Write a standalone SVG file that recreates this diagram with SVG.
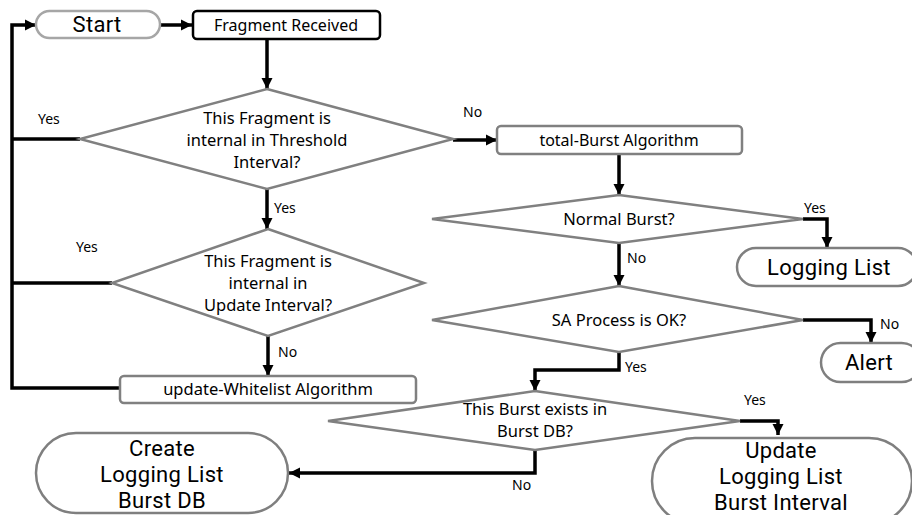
<svg xmlns="http://www.w3.org/2000/svg" width="912" height="515" viewBox="0 0 912 515">
  <style>
    text { font-family: "Noto Sans", "Open Sans", sans-serif; fill: #000; text-anchor: middle; }
    .box { fill: #fff; stroke: #808080; stroke-width: 2.5; }
    .dec { fill: #fff; stroke: #808080; stroke-width: 2.5; stroke-linejoin: miter; }
    .pill { fill: #fff; stroke: #7f7f7f; stroke-width: 2.5; }
    .t14 { font-size: 16px; }
    .t15 { font-size: 16.5px; }
    .t20 { font-family: Roboto, "Noto Sans", sans-serif; font-size: 22px; letter-spacing: 0.3px; }
    .lbl { font-size: 14px; text-anchor: start; }
    .wire { fill: none; stroke: #000; stroke-width: 3.5; stroke-linejoin: miter; }
    .arr { marker-end: url(#head); }
  </style>
  <defs>
    <marker id="head" markerUnits="userSpaceOnUse" markerWidth="12" markerHeight="12" refX="11" refY="6" orient="auto">
      <path d="M0,0.5 L11,6 L0,11.5 Z" fill="#000"/>
    </marker>
  </defs>

  <rect width="912" height="515" fill="#fff"/>

  <!-- connectors -->
  <g id="connectors">
    <path class="wire arr" d="M160,25 H192"/>
    <path class="wire arr" d="M267,39 V89"/>
    <path class="wire" d="M80,139 H12"/>
    <path class="wire" d="M112,283 H12"/>
    <path class="wire arr" d="M120,388 H12 V25 H36"/>
    <path class="wire arr" d="M453,140 H497"/>
    <path class="wire arr" d="M267,189 V229"/>
    <path class="wire arr" d="M268,336 V376"/>
    <path class="wire arr" d="M619,154 V195"/>
    <path class="wire arr" d="M803,219 H827 V248"/>
    <path class="wire arr" d="M619,243 V286"/>
    <path class="wire arr" d="M803,320 H871 V343"/>
    <path class="wire arr" d="M619,352 V370 H535 V391"/>
    <path class="wire arr" d="M740,421 H778 V435"/>
    <path class="wire arr" d="M535,450 V473 H289"/>
  </g>

  <!-- edge labels -->
  <g id="labels">
    <text class="lbl" x="38" y="124">Yes</text>
    <text class="lbl" x="463" y="117">No</text>
    <text class="lbl" x="274" y="213">Yes</text>
    <text class="lbl" x="76" y="252">Yes</text>
    <text class="lbl" x="278" y="357">No</text>
    <text class="lbl" x="804" y="213">Yes</text>
    <text class="lbl" x="627" y="263">No</text>
    <text class="lbl" x="880" y="329">No</text>
    <text class="lbl" x="625" y="372">Yes</text>
    <text class="lbl" x="744" y="405">Yes</text>
    <text class="lbl" x="512" y="490">No</text>
  </g>

  <g id="start">
    <rect x="36" y="11" width="124" height="27" rx="13.5" fill="#fff" stroke="#a6a6a6" stroke-width="2.5"/>
    <text class="t20" x="97" y="32">Start</text>
  </g>

  <g id="fragment-received">
    <rect x="193" y="11" width="187" height="28" rx="4" fill="#fff" stroke="#000" stroke-width="2.5"/>
    <text class="t14" x="286" y="31">Fragment Received</text>
  </g>

  <g id="threshold-check">
    <polygon class="dec" points="267,89 453,139 267,189 80,139"/>
    <text class="t15" x="267" y="124">This Fragment is</text>
    <text class="t15" x="267" y="146">internal in Threshold</text>
    <text class="t15" x="267" y="168">Interval?</text>
  </g>

  <g id="update-check">
    <polygon class="dec" points="268,229 424,283 268,336 112,283"/>
    <text class="t15" x="268" y="267">This Fragment is</text>
    <text class="t15" x="268" y="289">internal in</text>
    <text class="t15" x="268" y="311">Update Interval?</text>
  </g>

  <g id="update-whitelist">
    <rect class="box" x="120" y="376" width="296" height="27" rx="4"/>
    <text class="t15" x="268" y="395">update-Whitelist Algorithm</text>
  </g>

  <g id="total-burst">
    <rect class="box" x="497" y="126" width="245" height="28" rx="4"/>
    <text class="t14" x="619" y="146">total-Burst Algorithm</text>
  </g>

  <g id="normal-burst">
    <polygon class="dec" points="619,195 803,219 619,243 432,219"/>
    <text class="t15" x="619" y="225">Normal Burst?</text>
  </g>

  <g id="logging-list">
    <rect class="pill" x="737" y="248" width="180" height="38" rx="19"/>
    <text class="t20" x="829" y="275">Logging List</text>
  </g>

  <g id="sa-process">
    <polygon class="dec" points="619,286 803,320 619,352 432,320"/>
    <text class="t15" x="619" y="326">SA Process is OK?</text>
  </g>

  <g id="alert">
    <rect class="pill" x="821" y="343" width="100" height="39" rx="19.5"/>
    <text class="t20" x="869" y="370">Alert</text>
  </g>

  <g id="burst-db-check">
    <polygon class="dec" points="535,391 740,421 535,450 328,421"/>
    <text class="t15" x="535" y="415">This Burst exists in</text>
    <text class="t15" x="535" y="437">Burst DB?</text>
  </g>

  <g id="create-entry">
    <rect class="pill" x="36" y="433" width="252" height="80" rx="40"/>
    <text class="t20" x="162" y="456">Create</text>
    <text class="t20" x="162" y="482">Logging List</text>
    <text class="t20" x="162" y="508">Burst DB</text>
  </g>

  <g id="update-entry">
    <rect class="pill" x="652" y="438" width="260" height="86" rx="43"/>
    <text class="t20" x="781" y="458">Update</text>
    <text class="t20" x="781" y="484">Logging List</text>
    <text class="t20" x="781" y="510">Burst Interval</text>
  </g>
</svg>
